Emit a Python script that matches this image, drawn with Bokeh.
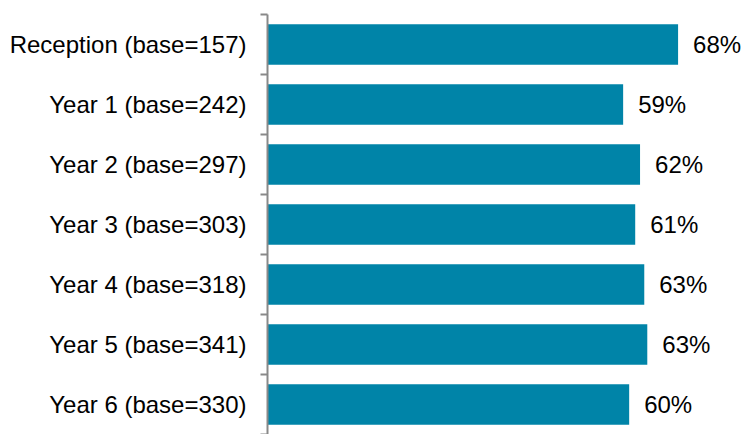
from bokeh.plotting import figure
from bokeh.models import ColumnDataSource, FixedTicker
from bokeh.core.properties import value
from bokeh.embed import file_html
from bokeh.resources import INLINE

categories = ["Reception (base=157)", "Year 1 (base=242)", "Year 2 (base=297)",
              "Year 3 (base=303)", "Year 4 (base=318)", "Year 5 (base=341)",
              "Year 6 (base=330)"]
values = [68, 58.9, 61.7, 60.9, 62.4, 62.9, 59.9]
value_labels = ["68%", "59%", "62%", "61%", "63%", "63%", "60%"]

n = len(categories)
centers = [n - i - 0.5 for i in range(n)]
boundaries = list(range(n + 1))

src = ColumnDataSource(dict(y=centers, v=values, lab=value_labels))

p = figure(width=744, height=434, x_range=(0, 79.0), y_range=(0, n),
           output_backend="svg", toolbar_location=None,
           min_border_top=14, min_border_bottom=0, min_border_left=267, min_border_right=0)
p.outline_line_color = None
p.grid.visible = False
p.xaxis.visible = False

p.hbar(y="y", left=0, right="v", height=0.675, source=src,
       fill_color="#0084A8", line_color=None)
p.text(x="v", y="y", text="lab", source=src, x_offset=15,
       text_font=value("Liberation Sans"), text_font_size="24px",
       text_baseline="middle", text_align="left", text_color="#000000")

yax = p.yaxis[0]
yax.ticker = FixedTicker(ticks=centers, minor_ticks=boundaries)
yax.major_label_overrides = {c: categories[i] for i, c in enumerate(centers)}
yax.major_tick_out = 0
yax.major_tick_in = 0
yax.minor_tick_out = 7
yax.minor_tick_in = 0
yax.minor_tick_line_color = "#898989"
yax.minor_tick_line_width = 2
yax.axis_line_color = "#898989"
yax.axis_line_width = 2
yax.major_label_standoff = 14
yax.major_label_text_font = "Liberation Sans"
yax.major_label_text_font_size = "24px"
yax.major_label_text_color = "#000000"

open("out.html", "w").write(file_html(p, INLINE))
